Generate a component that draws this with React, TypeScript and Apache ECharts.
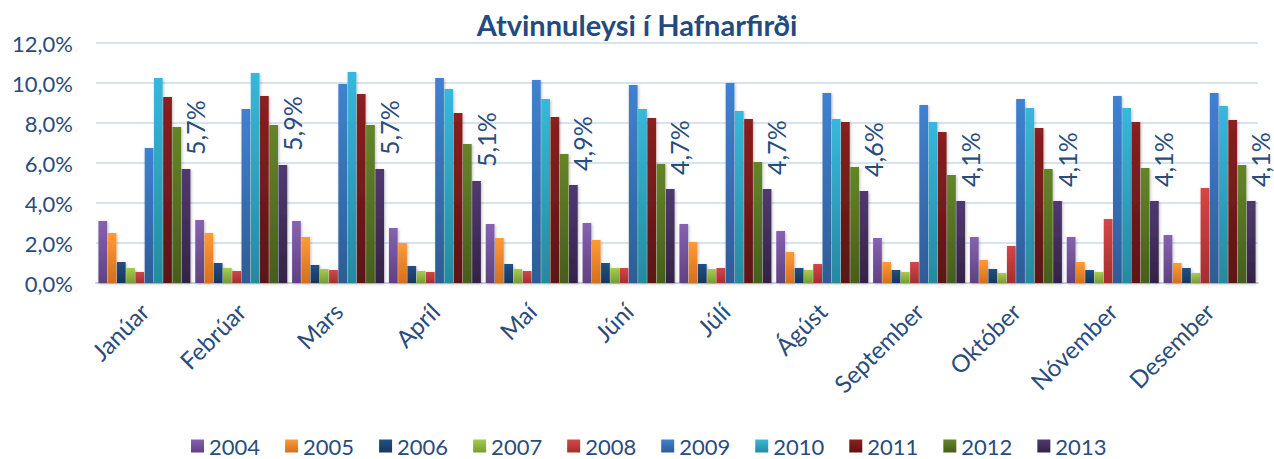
import React, { useEffect, useRef } from "react";
import * as echarts from "echarts";

const months = ["Janúar", "Febrúar", "Mars", "Apríl", "Maí", "Júní", "Júlí", "Ágúst", "September", "Október", "Nóvember", "Desember"];
const years = ["2004", "2005", "2006", "2007", "2008", "2009", "2010", "2011", "2012", "2013"];

const y2004 = [3.1, 3.15, 3.1, 2.75, 2.95, 3.0, 2.95, 2.6, 2.25, 2.3, 2.3, 2.4];
const y2005 = [2.5, 2.5, 2.3, 2.0, 2.25, 2.15, 2.05, 1.55, 1.05, 1.15, 1.05, 1.0];
const y2006 = [1.05, 1.0, 0.9, 0.85, 0.95, 1.0, 0.95, 0.75, 0.65, 0.7, 0.65, 0.75];
const y2007 = [0.75, 0.75, 0.7, 0.6, 0.7, 0.75, 0.7, 0.65, 0.55, 0.5, 0.55, 0.5];
const y2008 = [0.55, 0.6, 0.65, 0.55, 0.6, 0.75, 0.75, 0.95, 1.05, 1.85, 3.2, 4.75];
const y2009 = [6.75, 8.7, 9.95, 10.25, 10.15, 9.9, 10.0, 9.5, 8.9, 9.2, 9.35, 9.5];
const y2010 = [10.25, 10.5, 10.55, 9.7, 9.2, 8.7, 8.6, 8.2, 8.05, 8.75, 8.75, 8.85];
const y2011 = [9.3, 9.35, 9.45, 8.5, 8.3, 8.25, 8.2, 8.05, 7.55, 7.75, 8.05, 8.15];
const y2012 = [7.8, 7.9, 7.9, 6.95, 6.45, 5.95, 6.05, 5.8, 5.4, 5.7, 5.75, 5.9];
const y2013 = [5.7, 5.9, 5.7, 5.1, 4.9, 4.7, 4.7, 4.6, 4.1, 4.1, 4.1, 4.1];

const seriesValues = [y2004, y2005, y2006, y2007, y2008, y2009, y2010, y2011, y2012, y2013];

const colorPairs: [string, string][] = [
  ["#8662B2", "#5E4282"],
  ["#FF9B35", "#D2701F"],
  ["#215084", "#17375E"],
  ["#A6CD4B", "#789B36"],
  ["#D64646", "#A32F2F"],
  ["#3F82D2", "#2D5C96"],
  ["#37B8DC", "#2789A0"],
  ["#8B2020", "#5C1414"],
  ["#658528", "#465E1C"],
  ["#503971", "#332346"],
];

const textColor = "#2A4C7D";
const fontFamily = "Lato, 'Noto Sans', sans-serif";

const fmt = (v: number) => v.toFixed(1).replace(".", ",") + "%";

export default function App() {
  const ref = useRef<HTMLDivElement>(null);
  useEffect(() => {
    if (!ref.current) return;
    const chart = echarts.init(ref.current, null, { renderer: "svg" });
    const series = years.map((y, i) => {
      const grad = new echarts.graphic.LinearGradient(0, 0, 0, 1, [
        { offset: 0, color: colorPairs[i][0] },
        { offset: 1, color: colorPairs[i][1] },
      ]);
      const s: any = {
        name: y,
        type: "bar",
        data: seriesValues[i],
        barGap: "6%",
        barCategoryGap: "5%",
        itemStyle: {
          color: grad,
          shadowColor: "rgba(0,0,0,0.25)",
          shadowBlur: 3,
          shadowOffsetX: 1,
          shadowOffsetY: 1,
        },
      };
      if (i === years.length - 1) {
        s.label = {
          show: true,
          position: "top",
          distance: 14,
          rotate: 90,
          align: "left",
          verticalAlign: "middle",
          offset: [0, 9],
          color: textColor,
          fontSize: 25,
          fontFamily,
          formatter: (p: any) => fmt(p.value),
        };
      }
      return s;
    });
    chart.setOption({
      animation: false,
      backgroundColor: "#ffffff",
      title: {
        text: "Atvinnuleysi í Hafnarfirði",
        left: "center",
        top: 5,
        textStyle: { color: "#254A7F", fontSize: 29, fontWeight: "bold", fontFamily },
      },
      legend: {
        data: years,
        top: 435,
        left: 186,
        padding: [0, 5],
        itemWidth: 13,
        itemHeight: 13,
        itemGap: 25,
        icon: "rect",
        textStyle: { color: textColor, fontSize: 22, fontFamily },
      },
      grid: { left: 96, right: 16, top: 43, height: 240 },
      xAxis: {
        type: "category",
        data: months,
        axisLine: { show: true, lineStyle: { color: "#C9D3E0", width: 2 } },
        axisTick: { show: false },
        axisLabel: {
          rotate: 45,
          interval: 0,
          margin: 24,
          color: textColor,
          fontSize: 24,
          fontFamily,
        },
      },
      yAxis: {
        type: "value",
        min: 0,
        max: 12,
        interval: 2,
        axisLine: { show: false },
        axisTick: { show: false },
        splitLine: { lineStyle: { color: "#D8E3F1", width: 2 } },
        axisLabel: {
          margin: 23,
          color: textColor,
          fontSize: 22,
          fontFamily,
          formatter: (v: number) => fmt(v),
        },
      },
      series,
    });
    return () => chart.dispose();
  }, []);
  return (
    <div
      ref={ref}
      style={{ position: "fixed", left: 0, top: 0, width: 1274, height: 459 }}
    />
  );
}
